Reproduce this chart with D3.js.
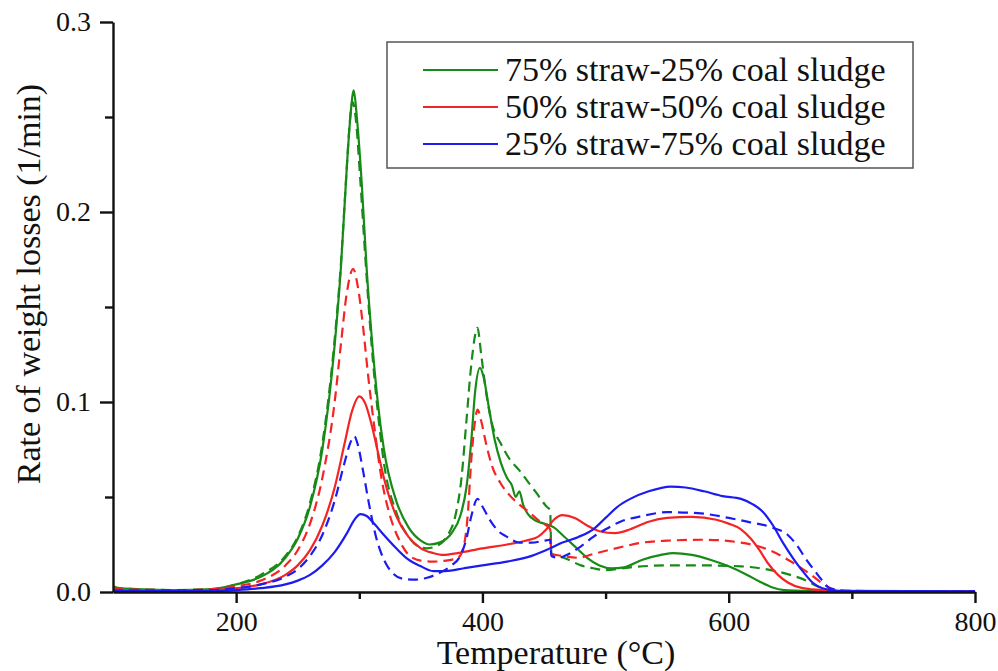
<!DOCTYPE html>
<html lang="en">
<head>
<meta charset="UTF-8">
<script src="https://d3js.org/d3.v7.min.js"></script>
<title>DTG curves</title>
<style>
  body { margin: 0; background: #fff; }
  svg text { font-family: "Liberation Serif", "Times New Roman", Times, "DejaVu Serif", "Noto Serif", serif; fill: #111; }
</style>
</head>
<body>
<div id="chart"></div>
<script>
// [temperature °C, rate 1/min]
const greenSolid = [[100,0.003],[105,0.002],[120,0.0015],[150,0.001],[180,0.0015],[200,0.004],[220,0.008],[240,0.018],[250,0.028],[260,0.045],[270,0.075],[280,0.13],[285,0.17],[290,0.225],[293,0.252],[295.5,0.264],[298,0.25],[302,0.215],[306,0.17],[310,0.135],[315,0.1],[320,0.075],[330,0.048],[340,0.034],[350,0.027],[357,0.025],[365,0.026],[375,0.031],[382,0.04],[387,0.055],[391,0.08],[394,0.105],[398,0.118],[401,0.113],[405,0.098],[410,0.08],[415,0.068],[420,0.06],[424,0.056],[427,0.05],[430,0.053],[433,0.046],[437,0.041],[442,0.038],[450,0.036],[458,0.034],[465,0.03],[475,0.024],[485,0.018],[495,0.014],[505,0.0125],[515,0.013],[530,0.017],[545,0.0195],[555,0.0205],[570,0.0195],[585,0.017],[600,0.0135],[615,0.009],[625,0.0055],[635,0.0025],[645,0.001],[670,0.0005],[700,0.0003],[800,0.0003]];
const greenDashed = [[100,0.002],[150,0.001],[180,0.0015],[200,0.004],[220,0.009],[240,0.019],[250,0.029],[260,0.047],[270,0.078],[280,0.133],[285,0.172],[290,0.225],[292,0.245],[294.5,0.258],[297,0.25],[301,0.215],[305,0.175],[310,0.13],[315,0.095],[320,0.068],[330,0.042],[340,0.029],[348,0.024],[355,0.023],[365,0.025],[372,0.03],[378,0.04],[383,0.06],[387,0.09],[391,0.12],[396,0.139],[399,0.125],[403,0.105],[408,0.088],[415,0.078],[422,0.07],[430,0.064],[437,0.058],[444,0.052],[452,0.045],[455,0.043],[456,0.02],[462,0.019],[470,0.017],[480,0.014],[490,0.0125],[500,0.0115],[520,0.013],[550,0.014],[580,0.014],[610,0.0135],[630,0.012],[650,0.009],[663,0.006],[672,0.003],[682,0.001],[700,0.0004],[800,0.0003]];
const redSolid = [[100,0.001],[150,0.0008],[180,0.001],[200,0.002],[220,0.004],[240,0.009],[250,0.014],[260,0.022],[270,0.035],[280,0.055],[288,0.078],[294,0.095],[300,0.103],[305,0.099],[310,0.088],[315,0.074],[320,0.06],[330,0.04],[340,0.029],[350,0.023],[360,0.0205],[368,0.0195],[380,0.0205],[400,0.023],[420,0.025],[435,0.027],[445,0.029],[452,0.033],[458,0.038],[465,0.0405],[475,0.039],[485,0.035],[495,0.032],[508,0.031],[520,0.033],[535,0.037],[550,0.039],[570,0.0395],[590,0.038],[600,0.036],[610,0.033],[618,0.028],[625,0.022],[632,0.015],[640,0.009],[648,0.005],[660,0.002],[680,0.0008],[700,0.0004],[800,0.0003]];
const redDashed = [[100,0.0015],[150,0.001],[180,0.0015],[200,0.003],[220,0.006],[240,0.014],[250,0.022],[260,0.036],[270,0.06],[280,0.1],[285,0.13],[290,0.158],[295,0.17],[299,0.16],[303,0.14],[307,0.115],[312,0.088],[318,0.06],[325,0.04],[332,0.028],[341,0.019],[350,0.0165],[360,0.016],[370,0.0165],[380,0.018],[384,0.022],[388,0.04],[391,0.07],[394,0.09],[396,0.096],[399,0.09],[403,0.078],[408,0.066],[415,0.057],[422,0.051],[430,0.046],[438,0.042],[445,0.038],[452,0.035],[455,0.033],[456,0.02],[465,0.019],[478,0.018],[490,0.02],[502,0.022],[515,0.024],[530,0.026],[550,0.027],[580,0.0275],[610,0.026],[633,0.022],[648,0.017],[658,0.013],[667,0.009],[675,0.005],[685,0.0015],[700,0.0005],[800,0.0003]];
const blueSolid = [[100,0.0005],[180,0.0005],[200,0.001],[220,0.002],[240,0.004],[250,0.006],[260,0.009],[270,0.014],[280,0.021],[290,0.031],[296,0.038],[301,0.041],[306,0.04],[312,0.036],[320,0.03],[330,0.023],[340,0.017],[350,0.0135],[360,0.011],[370,0.011],[385,0.0125],[400,0.014],[420,0.016],[440,0.019],[455,0.023],[465,0.026],[478,0.029],[490,0.033],[500,0.039],[510,0.045],[520,0.049],[535,0.053],[553,0.0555],[565,0.055],[580,0.053],[595,0.0505],[610,0.049],[620,0.046],[628,0.042],[636,0.035],[644,0.026],[652,0.018],[660,0.011],[668,0.005],[676,0.002],[690,0.0006],[800,0.0003]];
const blueDashed = [[100,0.0008],[180,0.001],[200,0.002],[220,0.004],[240,0.008],[250,0.012],[260,0.019],[270,0.03],[280,0.048],[288,0.068],[293,0.079],[296,0.082],[299,0.077],[303,0.064],[308,0.046],[314,0.028],[320,0.017],[327,0.01],[335,0.007],[345,0.0065],[355,0.0075],[365,0.01],[375,0.014],[382,0.019],[387,0.028],[391,0.04],[396,0.049],[400,0.045],[406,0.038],[413,0.032],[420,0.029],[430,0.026],[440,0.026],[450,0.027],[455,0.0275],[456,0.019],[462,0.018],[470,0.02],[480,0.024],[490,0.029],[500,0.033],[512,0.037],[530,0.04],[550,0.042],[575,0.0415],[600,0.039],[615,0.037],[635,0.034],[648,0.03],[656,0.024],[663,0.017],[670,0.011],[676,0.006],[682,0.002],[695,0.0006],[800,0.0003]];

const labels = ["75% straw-25% coal sludge", "50% straw-50% coal sludge", "25% straw-75% coal sludge"];
const colors = ["#178a17", "#f42424", "#1c1cf0"];
const xTicks = [200, 400, 600, 800];
const xMinor = [300, 500, 700];
const yTicks = [0, 0.1, 0.2, 0.3];
const yMinor = [0.05, 0.15, 0.25];

const w = 998, h = 671;
const padL = 113, padR = 975, padT = 22, padB = 592;
const serif = '"Liberation Serif", "Times New Roman", Times, "DejaVu Serif", "Noto Serif", serif';

const svg = d3.select("#chart").append("svg")
    .attr("width", w)
    .attr("height", h);

const x = d3.scaleLinear().domain([100, 800]).range([padL, padR]);
const y = d3.scaleLinear().domain([0, 0.3]).range([padB, padT]);

// curves
const series = [
    {data: greenSolid, color: colors[0], dash: null},
    {data: greenDashed, color: colors[0], dash: "10,6"},
    {data: redSolid, color: colors[1], dash: null},
    {data: redDashed, color: colors[1], dash: "10,6"},
    {data: blueSolid, color: colors[2], dash: null},
    {data: blueDashed, color: colors[2], dash: "10,6"}
];
const line = d3.line()
    .x(d => x(d[0]))
    .y(d => y(d[1]))
    .curve(d3.curveMonotoneX);

svg.selectAll("path.curve")
   .data(series)
   .enter()
   .append("path")
   .attr("class", "curve")
   .attr("d", d => line(d.data))
   .attr("fill", "none")
   .attr("stroke", d => d.color)
   .attr("stroke-width", 2.2)
   .attr("stroke-dasharray", d => d.dash);

// axes
svg.append("g")
   .attr("transform", "translate(0," + padB + ")")
   .call(d3.axisBottom(x).tickValues(xTicks).tickSize(11).tickSizeOuter(0).tickPadding(8));
svg.append("g")
   .attr("transform", "translate(0," + padB + ")")
   .call(d3.axisBottom(x).tickValues(xMinor).tickSize(7).tickFormat(""))
   .select(".domain").remove();

svg.append("g")
   .attr("transform", "translate(" + padL + ",0)")
   .call(d3.axisLeft(y).tickValues(yTicks).tickFormat(d3.format(".1f")).tickSize(13).tickSizeOuter(0).tickPadding(9));
svg.append("g")
   .attr("transform", "translate(" + padL + ",0)")
   .call(d3.axisLeft(y).tickValues(yMinor).tickSize(8).tickFormat(""))
   .select(".domain").remove();

svg.selectAll("g").attr("font-family", serif);
svg.selectAll(".domain, .tick line")
   .attr("stroke", "#111")
   .attr("stroke-width", 2.4);
svg.selectAll(".tick text")
   .style("font-size", "28px")
   .style("font-family", serif)
   .attr("fill", "#111");

// axis titles
svg.append("text")
   .text("Temperature (°C)")
   .attr("x", 556)
   .attr("y", 664)
   .attr("text-anchor", "middle")
   .style("font-family", serif)
   .style("font-size", "34px");

svg.append("text")
   .text("Rate of weight losses (1/min)")
   .attr("transform", "translate(40,284) rotate(-90)")
   .attr("text-anchor", "middle")
   .style("font-family", serif)
   .style("font-size", "34px");

// legend
const legend = svg.append("g");
legend.append("rect")
   .attr("x", 387).attr("y", 42)
   .attr("width", 526).attr("height", 126)
   .attr("fill", "#fff")
   .attr("stroke", "#555")
   .attr("stroke-width", 1.5);

const rows = legend.selectAll("g.row")
   .data(labels)
   .enter()
   .append("g")
   .attr("class", "row")
   .attr("transform", (d, i) => "translate(0," + (70 + i * 37) + ")");
rows.append("line")
   .attr("x1", 423).attr("x2", 498)
   .attr("y1", 0).attr("y2", 0)
   .attr("stroke", (d, i) => colors[i])
   .attr("stroke-width", 2.2);
rows.append("text")
   .text(d => d)
   .attr("x", 505)
   .attr("y", 11)
   .style("font-family", serif)
   .style("font-size", "34px");
</script>
</body>
</html>
